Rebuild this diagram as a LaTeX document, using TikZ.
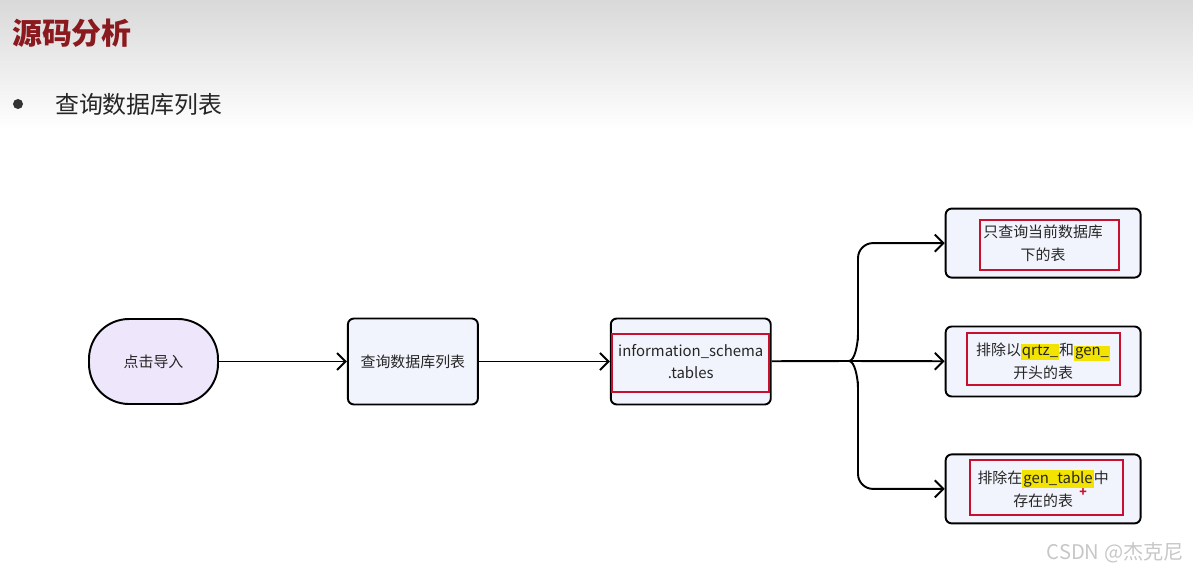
\documentclass[tikz,border=0pt]{standalone}
\usepackage{fontspec}
\setmainfont{Noto Sans CJK SC}
\usepackage{xcolor}
\definecolor{titleRed}  {HTML}{8B1A1F}
\definecolor{startBack} {HTML}{EEE7FB}
\definecolor{boxBack}   {HTML}{F1F4FC}
\definecolor{markRed}   {HTML}{C8102E}
\definecolor{hlYellow}  {HTML}{F2E300}
\usetikzlibrary{arrows.meta, positioning, calc}
\newcommand\boxfont{\fontsize{8.5}{13}\selectfont}
\newcommand\hlt[1]{{\setlength\fboxsep{0.6pt}\colorbox{hlYellow}{#1}}}
\tikzset{
    startnode/.style={draw, line width=1.1pt, fill=startBack, rounded corners=8mm,
                      minimum width=2.58cm, minimum height=1.7cm,
                      font=\boxfont, text=black!85},
    stepbox/.style={draw, line width=1.1pt, fill=boxBack, rounded corners=1.2mm,
                    minimum height=1.72cm, align=center,
                    font=\boxfont, text=black!85},
    sidebox/.style={stepbox, minimum width=3.9cm, minimum height=1.4cm},
    flow/.style={-{Straight Barb[length=1.7mm, width=3.4mm]}, line width=1.1pt},
    flowline/.style={line width=1.1pt},
    redframe/.style={draw=markRed, line width=1.1pt},
}

\begin{document}
\begin{tikzpicture}[x=0.02cm, y=-0.02cm]
    \useasboundingbox (0,0) rectangle (1193,574);
    % slide header
    \shade[top color=black!15, bottom color=white] (0,0) rectangle (1193,130);
    \node[anchor=west, text=titleRed, font=\fontsize{17}{20}\selectfont\bfseries]
        (title) at (6,33) {源码分析};
    \fill[black!80] (18,104) circle (5);
    \node[anchor=west, text=black!85, font=\fontsize{13.6}{16}\selectfont]
        (bullet) at (49,104) {查询数据库列表};
    % flow
    \node[startnode] (click) at (153.5,361.5) {点击导入};
    \node[stepbox, minimum width=2.6cm, right=2.56cm of click] (query) {查询数据库列表};
    \node[stepbox, minimum width=3.2cm, right=2.62cm of query, font=\fontsize{8.5}{12.5}\selectfont]
        (schema) {information\_schema\\.tables};
    \node[sidebox, right=3.46cm of schema] (excl) {排除以\hlt{qrtz\_}和\hlt{gen\_}\\开头的表};
    \node[sidebox, above=0.94cm of excl, minimum height=1.38cm] (curdb) {只查询当前数据库\\下的表};
    \node[sidebox, below=1.12cm of excl, minimum height=1.38cm] (gentab) {排除在\hlt{gen\_table}中\\存在的表};
    \coordinate (fork) at (849,361);
    \coordinate (trunk) at (858,361);
    \draw[flow] (click) -- (query);
    \draw[flow] (query) -- (schema);
    \draw[flowline] (schema) -- (fork);
    \draw[flow] (fork) -- (excl);
    \draw[flow, rounded corners=3mm] (fork) to[out=0, in=90] (858,349) -- (trunk |- curdb.west) -- (curdb.west);
    \draw[flow, rounded corners=3mm] (fork) to[out=0, in=-90] (858,373) -- (trunk |- gentab.west) -- (gentab.west);
    % red marks
    \draw[redframe] (612,334) rectangle (769,392);
    \draw[redframe] (980,220) rectangle (1119,270);
    \draw[redframe] (967,333) rectangle (1120,385);
    \draw[redframe] (970,460) rectangle (1123,515);
    \node[text=markRed, font=\fontsize{7}{7}\selectfont\bfseries, inner sep=0pt] (cursor) at (1083,492) {+};
    % watermark
    \node[anchor=east, text=black!22, font=\fontsize{11.5}{14}\selectfont] (mark) at (1190,553) {CSDN @杰克尼};
\end{tikzpicture}
\end{document}
